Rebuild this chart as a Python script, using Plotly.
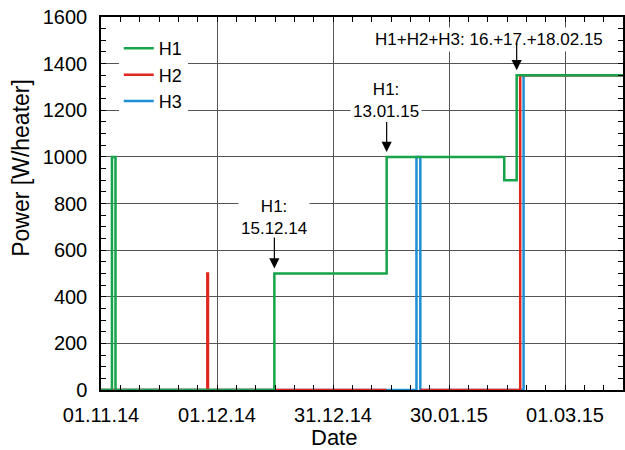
import plotly.graph_objects as go

# ---- data ----
h1_dates = ["2014-11-01 00:00", "2014-11-03 20:00", "2014-11-04 18:00", "2014-12-15 20:00",
            "2015-01-13 21:00", "2015-02-13 07:00", "2015-02-16 12:00", "2015-03-16 00:00"]
h1_vals = [0, 1000, 0, 500, 1000, 900, 1350, 1350]

h2_dates = ["2014-11-01 00:00", "2014-11-28 12:00", "2014-11-28 16:00", "2015-01-13 21:00",
            "2015-01-13 21:30", "2015-01-22 14:00", "2015-02-17 10:00", "2015-03-16 00:00"]
h2_vals = [0, 500, 0, 0, None, 0, 1350, 1350]

h3_dates = ["2014-11-01 00:00", "2015-01-21 14:00", "2015-01-22 14:00", "2015-02-18 07:00",
            "2015-03-16 00:00"]
h3_vals = [0, 1000, 0, 1350, 1350]

x_range = ["2014-11-01", "2015-03-16"]
x_tick0 = "2014-11-01"
DAY = 86400000

ann_events = [
    {"text": "H1:<br>15.12.14", "x": "2014-12-15 20:00", "y": 500, "ty": 740, "tx": "2014-12-15 20:00", "len": 26},
    {"text": "H1:<br>13.01.15", "x": "2015-01-13 21:00", "y": 1000, "ty": 1240, "tx": "2015-01-13 15:00", "len": 25},
    {"text": "H1+H2+H3: 16.+17.+18.02.15", "x": "2015-02-16 12:00", "y": 1350, "ty": 1504, "tx": "2015-02-09 11:00", "len": 22},
]

FONT = "Liberation Sans, Arial, sans-serif"
GREEN = "#16a34a"
RED = "#e3261d"
BLUE = "#1f8fd4"
STANDOFF = 5

fig = go.Figure()
fig.add_trace(go.Scatter(x=h3_dates, y=h3_vals, name="H3", mode="lines", line_shape="hv",
                         line=dict(color=BLUE, width=2.5)))
fig.add_trace(go.Scatter(x=h2_dates, y=h2_vals, name="H2", mode="lines", line_shape="hv",
                         line=dict(color=RED, width=2.5), connectgaps=False))
fig.add_trace(go.Scatter(x=h1_dates, y=h1_vals, name="H1", mode="lines", line_shape="hv",
                         line=dict(color=GREEN, width=2.5)))

annotations = []
for a in ann_events:
    annotations.append(dict(x=a["tx"], y=a["ty"], xref="x", yref="y", text=a["text"],
                            showarrow=False, xanchor="center", yanchor="middle",
                            font=dict(family=FONT, size=17, color="black"),
                            bgcolor="white", borderpad=2))
    annotations.append(dict(x=a["x"], y=a["y"], xref="x", yref="y", text=" ",
                            font=dict(size=1), borderpad=0,
                            showarrow=True, arrowhead=2, arrowsize=1.7, arrowwidth=1.2,
                            arrowcolor="black", ax=0, ay=-(a["len"] + STANDOFF + 6), standoff=STANDOFF))

annotations.append(dict(x=0.4466, y=-0.128, xref="paper", yref="paper", text="Date",
                        showarrow=False, xanchor="center", yanchor="middle",
                        font=dict(family=FONT, size=22, color="black")))
annotations.append(dict(x=-0.1546, y=0.5965, xref="paper", yref="paper", text="Power [W/heater]",
                        showarrow=False, xanchor="center", yanchor="middle", textangle=-90,
                        font=dict(family=FONT, size=23, color="black")))

fig.update_layout(
    width=625, height=450,
    margin=dict(l=101, r=0, t=17, b=60),
    paper_bgcolor="white", plot_bgcolor="white",
    font=dict(family=FONT, color="black"),
    showlegend=True,
    legend=dict(x=0.034, y=0.965, xanchor="left", yanchor="top", traceorder="reversed",
                bgcolor="white", borderwidth=0, font=dict(family=FONT, size=18, color="black")),
    annotations=annotations,
)

fig.update_xaxes(
    type="date", range=x_range, tick0=x_tick0, dtick=30 * DAY, tickformat="%d.%m.%y",
    showgrid=True, gridcolor="#555555", gridwidth=1,
    showline=True, linecolor="black", linewidth=1.5, mirror="ticks",
    ticks="inside", ticklen=5, tickcolor="black",
    tickfont=dict(family=FONT, size=20, color="black"), ticklabelstandoff=6,
    minor=dict(dtick=5 * DAY, tick0=x_tick0, ticks="inside", ticklen=5, tickcolor="black", showgrid=False),
    zeroline=False,
)
fig.update_yaxes(
    range=[0, 1600], dtick=200, tick0=0,
    showgrid=True, gridcolor="#555555", gridwidth=1,
    showline=True, linecolor="black", linewidth=1.5, mirror="ticks",
    ticks="inside", ticklen=5, tickcolor="black",
    tickfont=dict(family=FONT, size=20, color="black"), ticklabelstandoff=8,
    minor=dict(dtick=50, tick0=0, ticks="inside", ticklen=5, tickcolor="black", showgrid=False),
    zeroline=False,
)

fig.write_html("out.html")
